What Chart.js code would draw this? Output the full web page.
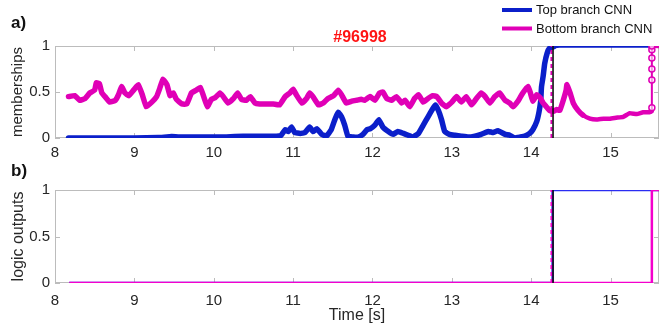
<!DOCTYPE html>
<html>
<head>
<meta charset="utf-8">
<script src="https://cdn.jsdelivr.net/npm/chart.js@4.4.1/dist/chart.umd.min.js"></script>
<style>
  html, body { margin: 0; padding: 0; background: #fff; overflow: hidden; width: 662px; height: 323px; }
  canvas { position: absolute; left: 0; }
  #membership { top: 0; }
  #logic { top: 160px; }
</style>
</head>
<body>
<canvas id="membership" width="662" height="165"></canvas>
<canvas id="logic" width="662" height="165"></canvas>
<script>
// ---- data -------------------------------------------------------------
const xTickValues = [8, 9, 10, 11, 12, 13, 14, 15];
const yTickValues = [0, 0.5, 1];
const timeMin = 8;
const timeMax = 15.61;

// membership of the top branch CNN
const topBranchTime = [
  8.17, 8.5, 9.0, 9.3, 9.47, 9.6, 9.8, 10.0, 10.16, 10.37, 10.58, 10.79, 10.85, 10.9, 10.94,
  10.98, 11.02, 11.09, 11.15, 11.21, 11.25, 11.3, 11.36, 11.42, 11.48, 11.53, 11.57, 11.61,
  11.65, 11.69, 11.76, 11.82, 11.88, 11.93, 11.97, 12.03, 12.08, 12.13, 12.2, 12.26, 12.32,
  12.39, 12.45, 12.51, 12.58, 12.64, 12.7, 12.76, 12.79, 12.83, 12.87, 12.91, 12.97, 13.04,
  13.12, 13.21, 13.29, 13.37, 13.46, 13.52, 13.58, 13.67, 13.73, 13.79, 13.86, 13.92, 13.98,
  14.02, 14.07, 14.1, 14.12, 14.13, 14.15, 14.17, 14.2, 14.23, 14.28, 14.36, 15.0, 15.64
];
const topBranchMembership = [
  0.0, 0.0, 0.0, 0.005, 0.015, 0.01, 0.01, 0.01, 0.01, 0.02, 0.02, 0.02, 0.03, 0.09, 0.07,
  0.12, 0.06, 0.05, 0.06, 0.12, 0.07, 0.10, 0.04, 0.02, 0.09, 0.21, 0.28, 0.23,
  0.14, 0.02, 0.01, 0.01, 0.04, 0.09, 0.10, 0.14, 0.20, 0.12, 0.07, 0.04, 0.07,
  0.05, 0.03, 0.01, 0.05, 0.14, 0.23, 0.32, 0.36, 0.30, 0.20, 0.07, 0.04, 0.03,
  0.02, 0.01, 0.02, 0.04, 0.07, 0.06, 0.08, 0.04, 0.03, 0.0, 0.01, 0.02, 0.05,
  0.09, 0.18, 0.29, 0.41, 0.56, 0.67, 0.81, 0.92, 0.975, 0.99, 1.0, 1.0, 1.0
];

// membership of the bottom branch CNN
const bottomBranchTime = [
  8.17, 8.25, 8.31, 8.38, 8.44, 8.5, 8.52, 8.56, 8.59, 8.63, 8.69, 8.76, 8.8, 8.84, 8.88,
  8.93, 8.99, 9.05, 9.1, 9.15, 9.22, 9.28, 9.32, 9.36, 9.41, 9.45, 9.49, 9.53, 9.6, 9.66,
  9.72, 9.78, 9.83, 9.87, 9.92, 9.97, 10.02, 10.08, 10.12, 10.18, 10.25, 10.3, 10.35, 10.41,
  10.46, 10.52, 10.58, 10.67, 10.75, 10.83, 10.9, 10.96, 11.0, 11.04, 11.11, 11.17, 11.21,
  11.25, 11.32, 11.38, 11.44, 11.51, 11.57, 11.61, 11.67, 11.74, 11.8, 11.86, 11.9, 11.97,
  12.03, 12.09, 12.13, 12.18, 12.24, 12.3, 12.37, 12.41, 12.47, 12.53, 12.58, 12.64, 12.7,
  12.76, 12.81, 12.87, 12.93, 13.0, 13.06, 13.12, 13.18, 13.25, 13.31, 13.37, 13.42, 13.48,
  13.54, 13.6, 13.67, 13.73, 13.77, 13.84, 13.88, 13.92, 13.96, 13.99, 14.02, 14.07, 14.11,
  14.15, 14.19, 14.23, 14.28, 14.32, 14.36, 14.4, 14.44, 14.45, 14.49, 14.53, 14.59, 14.65,
  14.74, 14.82, 14.91, 14.99, 15.07, 15.16, 15.24, 15.33, 15.41, 15.49, 15.52,
  15.52, 15.52, 15.52, 15.52, 15.52, 15.52, 15.64
];
const bottomBranchMembership = [
  0.45, 0.46, 0.41, 0.43, 0.49, 0.52, 0.60, 0.59, 0.49, 0.45, 0.39, 0.41, 0.47, 0.56, 0.49,
  0.46, 0.52, 0.58, 0.47, 0.34, 0.39, 0.45, 0.54, 0.64, 0.58, 0.46, 0.49, 0.42, 0.37, 0.37,
  0.49, 0.52, 0.55, 0.46, 0.34, 0.42, 0.44, 0.49, 0.45, 0.38, 0.43, 0.49, 0.42, 0.41,
  0.45, 0.38, 0.37, 0.37, 0.37, 0.36, 0.45, 0.49, 0.53, 0.47, 0.38, 0.43, 0.49,
  0.45, 0.36, 0.38, 0.43, 0.46, 0.52, 0.47, 0.38, 0.40, 0.41, 0.42, 0.41, 0.45,
  0.41, 0.49, 0.50, 0.43, 0.41, 0.45, 0.38, 0.41, 0.34, 0.43, 0.47, 0.39, 0.43,
  0.46, 0.45, 0.38, 0.34, 0.39, 0.45, 0.39, 0.45, 0.36, 0.43, 0.49, 0.45, 0.38,
  0.45, 0.49, 0.41, 0.38, 0.34, 0.41, 0.47, 0.52, 0.56, 0.49, 0.40, 0.47, 0.44,
  0.38, 0.34, 0.30, 0.29, 0.31, 0.30, 0.40, 0.52, 0.58, 0.49, 0.38, 0.30, 0.25,
  0.21, 0.20, 0.21, 0.21, 0.22, 0.23, 0.27, 0.26, 0.28, 0.28, 0.29,
  0.33, 0.63, 0.75, 0.87, 0.96, 1.0, 1.0
];

// logic outputs (step signals: each value holds until the next time stamp)
const topLogicTime = [8.18, 14.27, 15.64];
const topLogicValue = [0, 1, 1];
const bottomLogicTime = [8.18, 15.52, 15.64];
const bottomLogicValue = [0, 1, 1];

// vertical markers
const alarmTime = 14.275;        // black solid line
const branchMarkTime = 14.255;   // magenta dashed line

// ---- helpers ----------------------------------------------------------
const FONT = "'Liberation Sans', Arial, Helvetica, sans-serif";
Chart.defaults.font.family = FONT;
Chart.defaults.color = '#262626';

const BLUE = '#0b1fca';
const MAGENTA = '#e000b6';
const LOGIC_BLUE = '#2a2cf2';
const LOGIC_MAGENTA = '#f400cc';

const pts = (xs, ys) => xs.map((x, i) => ({ x, y: ys[i] }));
const vline = (t) => [{ x: t, y: 0 }, { x: t, y: 1 }];

// box with inward tick marks, panel letter, title and legend
const framePlugin = {
  id: 'frame',
  beforeDatasetsDraw(chart) {
    const { ctx, chartArea: a, scales: { x, y } } = chart;
    ctx.save();
    ctx.strokeStyle = '#bcbcbc';
    ctx.lineWidth = 1;
    ctx.strokeRect(a.left + 0.5, a.top + 0.5, a.right - a.left - 1, a.bottom - a.top - 1);
    ctx.beginPath();
    xTickValues.forEach(v => {
      const px = Math.round(x.getPixelForValue(v)) + 0.5;
      ctx.moveTo(px, a.bottom); ctx.lineTo(px, a.bottom - 5);
      ctx.moveTo(px, a.top); ctx.lineTo(px, a.top + 5);
    });
    yTickValues.forEach(v => {
      const py = Math.round(y.getPixelForValue(v)) + 0.5;
      ctx.moveTo(a.left, py); ctx.lineTo(a.left + 5, py);
      ctx.moveTo(a.right, py); ctx.lineTo(a.right - 5, py);
    });
    ctx.stroke();
    ctx.restore();
  },
  afterDraw(chart, args, opts) {
    const { ctx } = chart;
    ctx.save();
    if (opts.letter) {
      ctx.fillStyle = '#111';
      ctx.font = 'bold 17px ' + FONT;
      ctx.textBaseline = 'middle';
      ctx.textAlign = 'left';
      ctx.fillText(opts.letter, 11, opts.letterY);
    }
    if (opts.shot) {
      ctx.fillStyle = '#ff1414';
      ctx.font = 'bold 16px ' + FONT;
      ctx.textBaseline = 'middle';
      ctx.textAlign = 'center';
      ctx.fillText(opts.shot, 360, 38);
    }
    if (opts.legend) {
      ctx.font = '13px ' + FONT;
      ctx.textBaseline = 'middle';
      ctx.textAlign = 'left';
      let row = 0;
      chart.data.datasets.forEach(ds => {
        if (!ds.label) return;
        const yy = 10 + row * 18.5;
        ctx.strokeStyle = ds.borderColor;
        ctx.lineWidth = 4;
        ctx.beginPath();
        ctx.moveTo(502, yy); ctx.lineTo(532, yy);
        ctx.stroke();
        ctx.fillStyle = '#111';
        ctx.fillText(ds.label, 536, yy + 0.5);
        row++;
      });
    }
    ctx.restore();
  }
};

function scalesFor(yTitle, yTitleSize, xTitle, xHeight, xPad) {
  return {
    x: {
      type: 'linear', min: timeMin, max: timeMax,
      grid: { display: false, drawTicks: false }, border: { display: false },
      afterBuildTicks: s => { s.ticks = xTickValues.map(v => ({ value: v })); },
      afterFit: s => { s.height = xHeight; },
      ticks: { font: { size: 15 }, padding: xPad, maxRotation: 0, color: '#262626' },
      title: xTitle ? { display: true, text: xTitle, font: { size: 16 }, padding: { top: 0, bottom: 0 }, color: '#262626' } : { display: false }
    },
    y: {
      min: 0, max: 1,
      grid: { display: false, drawTicks: false }, border: { display: false },
      afterBuildTicks: s => { s.ticks = yTickValues.map(v => ({ value: v })); },
      afterFit: s => { s.width = 55; },
      ticks: { font: { size: 15 }, padding: 5, color: '#262626', callback: v => String(v) },
      title: { display: true, text: yTitle, font: { size: yTitleSize }, padding: { top: 9, bottom: 0 }, color: '#262626' }
    }
  };
}

const common = {
  responsive: false,
  animation: false,
  events: [],
  plugins: { legend: { display: false }, tooltip: { enabled: false } }
};

// ---- a) memberships ---------------------------------------------------
new Chart(document.getElementById('membership'), {
  type: 'line',
  data: {
    datasets: [
      {
        label: 'Top branch CNN',
        data: pts(topBranchTime, topBranchMembership),
        borderColor: BLUE, borderWidth: 5.5, pointRadius: 0, tension: 0.1,
        borderJoinStyle: 'round', borderCapStyle: 'round', order: 3,
        segment: { borderWidth: c => (c.p0.parsed.y > 0.985 && c.p1.parsed.y > 0.985) ? 3.5 : 5.5 }
      },
      {
        label: 'Bottom branch CNN',
        data: pts(bottomBranchTime, bottomBranchMembership),
        borderColor: MAGENTA, borderWidth: 5.5, tension: 0.1,
        borderJoinStyle: 'round', borderCapStyle: 'round', order: 2,
        pointRadius: c => (c.raw && c.raw.x > 15.5 && c.raw.x < 15.6 && c.raw.y > 0.3) ? 3 : 0,
        pointBorderColor: MAGENTA, pointBackgroundColor: 'rgba(255,255,255,0.6)', pointBorderWidth: 1.5,
        segment: { borderWidth: c => (c.p0.parsed.x > 15.5 && c.p1.parsed.x < 15.6) ? 2 : (c.p0.parsed.x > 14.6 ? 4.5 : 5.5) }
      },
      {
        label: '',
        data: vline(branchMarkTime),
        borderColor: MAGENTA, borderWidth: 2, borderDash: [4, 3], pointRadius: 0, order: 1
      },
      {
        label: '',
        data: vline(alarmTime),
        borderColor: '#111', borderWidth: 1.6, pointRadius: 0, order: 0
      }
    ]
  },
  options: {
    ...common,
    layout: { padding: { top: 46, right: 3, left: 0, bottom: 0 } },
    scales: scalesFor('memberships', 15, null, 27, 6),
    plugins: { ...common.plugins, frame: { letter: 'a)', letterY: 23, shot: '#96998', legend: true } }
  },
  plugins: [framePlugin]
});

// ---- b) logic outputs -------------------------------------------------
new Chart(document.getElementById('logic'), {
  type: 'line',
  data: {
    datasets: [
      {
        label: '',
        data: pts(topLogicTime, topLogicValue),
        borderColor: LOGIC_BLUE, borderWidth: 2.5, pointRadius: 0, stepped: true, order: 3
      },
      {
        label: '',
        data: pts(bottomLogicTime, bottomLogicValue),
        borderColor: LOGIC_MAGENTA, borderWidth: 2.5, pointRadius: 0, stepped: true, order: 2
      },
      {
        label: '',
        data: vline(branchMarkTime),
        borderColor: LOGIC_MAGENTA, borderWidth: 2, borderDash: [4, 3], pointRadius: 0, order: 1
      },
      {
        label: '',
        data: vline(alarmTime),
        borderColor: '#111', borderWidth: 1.6, pointRadius: 0, order: 0
      }
    ]
  },
  options: {
    ...common,
    layout: { padding: { top: 30, right: 3, left: 0, bottom: 0 } },
    scales: scalesFor('logic outputs', 16, 'Time [s]', 42, 9),
    plugins: { ...common.plugins, frame: { letter: 'b)', letterY: 11 } }
  },
  plugins: [framePlugin]
});
</script>
</body>
</html>
